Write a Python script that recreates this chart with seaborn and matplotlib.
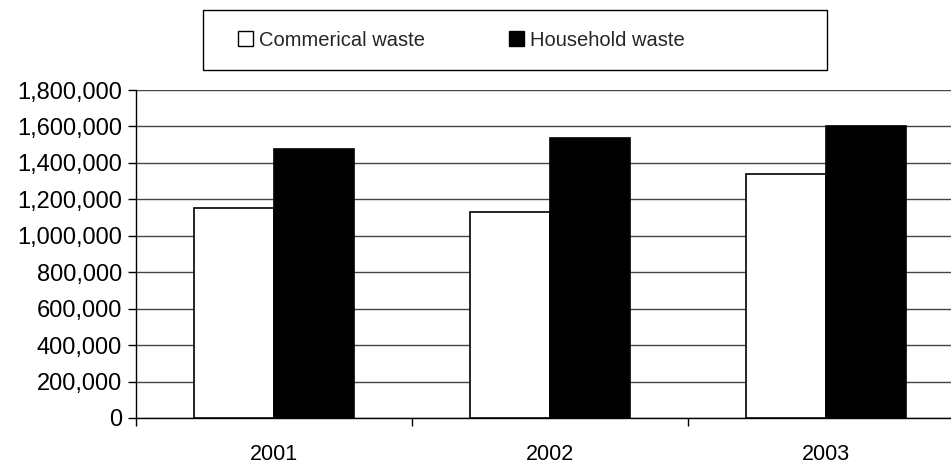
import matplotlib
matplotlib.use("Agg")
import matplotlib.pyplot as plt
from matplotlib.patches import Rectangle, Patch
from matplotlib.ticker import FuncFormatter
import seaborn as sns
import pandas as pd

years = ["2001", "2002", "2003"]
series = ["Commerical waste", "Household waste"]
commercial = [1155000, 1132000, 1340000]
household = [1475000, 1535000, 1600000]
y_ticks = [0, 200000, 400000, 600000, 800000, 1000000, 1200000, 1400000, 1600000, 1800000]

df = pd.DataFrame({
    "year": years * 2,
    "series": [series[0]] * len(years) + [series[1]] * len(years),
    "tonnes": commercial + household,
})

sns.set_theme(style="white")
plt.rcParams["font.family"] = ["Liberation Sans", "DejaVu Sans"]

W, H = 951, 463
fig = plt.figure(figsize=(W / 100, H / 100), dpi=100)
# plot area runs a little past the right edge of the canvas
left, right, top, bottom = 136, 964, 90, 418
ax = fig.add_axes([left / W, 1 - bottom / H, (right - left) / W, (bottom - top) / H])

palette = {series[0]: "white", series[1]: "black"}
sns.barplot(data=df, x="year", y="tonnes", hue="series", palette=palette,
            width=0.58, edgecolor="black", linewidth=1.2, saturation=1,
            legend=False, ax=ax, zorder=3)

ax.set_xlim(-0.5, 2.5)
ax.set_ylim(0, 1800000)
ax.set_yticks(y_ticks)
ax.yaxis.set_major_formatter(FuncFormatter(lambda v, p: f"{int(v):,}"))
ax.yaxis.grid(True, color="#444444", linewidth=1.0, zorder=0)
ax.set_axisbelow(True)

for s in ["top", "right"]:
    ax.spines[s].set_visible(False)
for s in ["left", "bottom"]:
    ax.spines[s].set_color("black")
    ax.spines[s].set_linewidth(1.0)

ax.set_xlabel("")
ax.set_ylabel("")
ax.set_xticks([0, 1, 2])
ax.set_xticklabels(years)
ax.set_xticks([-0.5, 0.5, 1.5, 2.5], minor=True)
ax.tick_params(axis="x", which="major", length=0, pad=18.5, labelsize=15.5, colors="black")
ax.tick_params(axis="x", which="minor", length=6, width=1, color="black", direction="out", bottom=True)
ax.tick_params(axis="y", length=6, width=1, color="black", direction="out", left=True,
               pad=4, labelsize=17, labelcolor="black")

# legend box above the plot
fig.patches.append(Rectangle((203 / W, 1 - 70 / H), (827 - 203) / W, 60 / H,
                             transform=fig.transFigure, facecolor="white",
                             edgecolor="black", linewidth=1.0))
handles = [Patch(facecolor="white", edgecolor="black", linewidth=1.0, label=series[0]),
           Patch(facecolor="black", edgecolor="black", linewidth=1.0, label=series[1])]
fig.legend(handles=handles, loc="center left", bbox_to_anchor=(238 / W, 1 - 40 / H),
           ncol=2, frameon=False, fontsize=14.5, handlelength=0.75, handleheight=0.75,
           handletextpad=0.3, columnspacing=4.15, borderaxespad=0, borderpad=0)

fig.savefig("out.png", dpi=100)
